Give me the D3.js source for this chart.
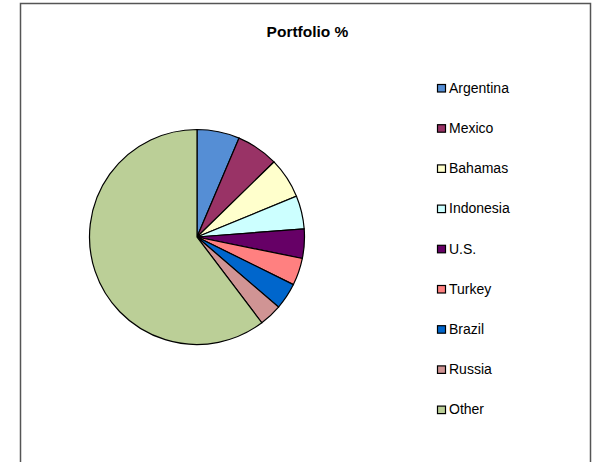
<!DOCTYPE html>
<html>
<head>
<meta charset="utf-8">
<script src="https://cdn.jsdelivr.net/npm/d3@7"></script>
<style>
  body { margin: 0; background: #fff; }
  text { font-family: Arial, "Liberation Sans", sans-serif; }
</style>
</head>
<body>
<div id="chart"></div>
<script>
// pie chart: Portfolio %

const countries = ["Argentina", "Mexico", "Bahamas", "Indonesia", "U.S.", "Turkey", "Brazil", "Russia", "Other"];
const shares = [6.4, 6.3, 6.1, 5.0, 4.4, 4.1, 4.0, 3.4, 60.3];
const sliceColors = ["#558ed5", "#993366", "#ffffcc", "#ccffff", "#660066", "#ff8080", "#0066cc", "#d09494", "#bbcf97"];

const width = 592, height = 462;

const svg = d3.select("#chart")
    .append("svg")
    .attr("width", width)
    .attr("height", height);

// chart frame (bottom edge runs off the picture)
svg.append("rect")
    .attr("x", 20.5)
    .attr("y", 3.5)
    .attr("width", 570)
    .attr("height", 480)
    .style("fill", "white")
    .style("stroke", "#555")
    .style("stroke-width", 1.5);

// title
svg.append("text")
    .attr("x", 307.5)
    .attr("y", 37)
    .attr("text-anchor", "middle")
    .style("font-size", "15.5px")
    .style("font-weight", "bold")
    .text("Portfolio %");

const color = d3.scaleOrdinal()
    .domain(countries)
    .range(sliceColors);

const data = countries.map((c, i) => ({ name: c, value: shares[i] }));

const pie = d3.pie()
    .value(d => d.value)
    .sort(null);

const arc = d3.arc()
    .innerRadius(0)
    .outerRadius(107.5);

const g = svg.append("g")
    .attr("transform", "translate(197,237)");

g.selectAll("path")
    .data(pie(data))
    .enter().append("path")
      .attr("d", arc)
      .style("fill", d => color(d.data.name))
      .style("stroke", "black")
      .style("stroke-width", 1.2);

// legend
const legendY = d3.scalePoint()
    .domain(countries)
    .range([88, 409.6]);

const legend = svg.selectAll(".legend")
    .data(countries)
    .enter().append("g")
    .attr("class", "legend")
    .attr("transform", d => "translate(437," + legendY(d) + ")");

legend.append("rect")
    .attr("x", 0.5)
    .attr("y", -3.5)
    .attr("width", 8)
    .attr("height", 7.5)
    .style("fill", d => color(d))
    .style("stroke", "black")
    .style("stroke-width", 1.2);

legend.append("text")
    .attr("x", 12)
    .attr("y", 4.8)
    .style("font-size", "14px")
    .text(d => d);
</script>
</body>
</html>
